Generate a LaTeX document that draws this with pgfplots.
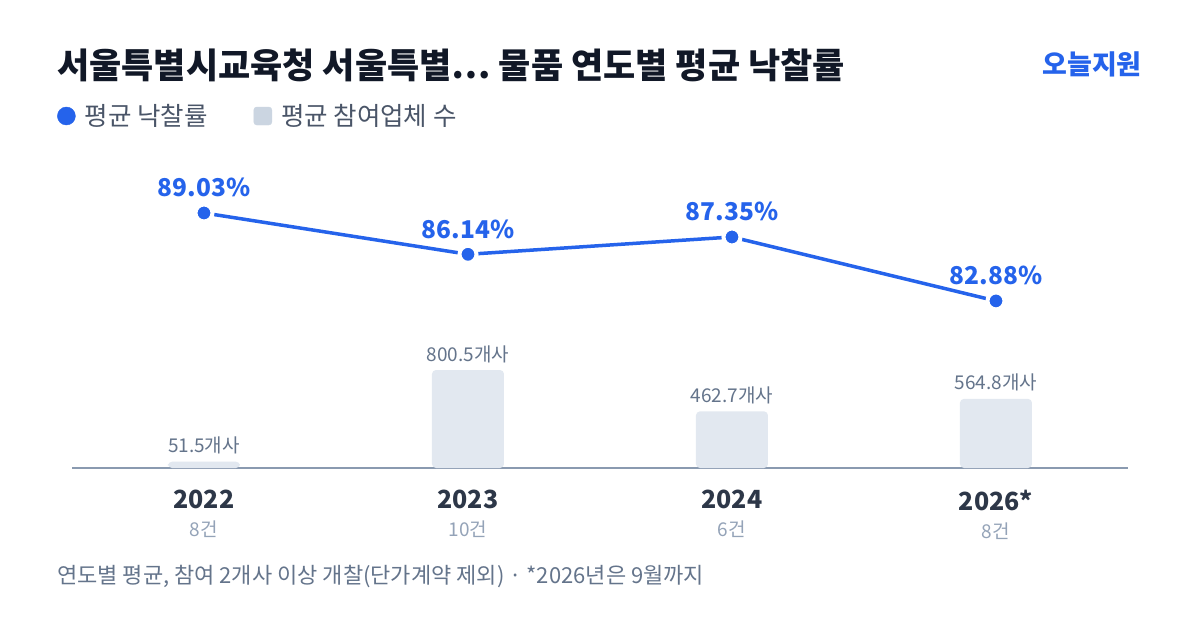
\documentclass[border=0pt]{standalone}
\usepackage{fontspec}
\setmainfont{Noto Sans CJK KR}
\usepackage{pgfplots}
\pgfplotsset{compat=1.18}

\definecolor{mainblue}{HTML}{2563EB}
\definecolor{titlec}{HTML}{111827}
\definecolor{legc}{HTML}{4A5568}
\definecolor{barc}{HTML}{E2E8F0}
\definecolor{legbar}{HTML}{CBD5E1}
\definecolor{basec}{HTML}{8A9AB0}
\definecolor{yearc}{HTML}{2D3748}
\definecolor{subc}{HTML}{94A3B8}
\definecolor{notec}{HTML}{64748B}
\newcommand\fs[1]{\fontsize{#1pt}{#1pt}\selectfont}
\newcommand\yl[2]{{\fs{25}\bfseries\color{yearc}#1}\\[11pt]{\fs{19}\color{subc}#2}}

\begin{document}
\begin{tikzpicture}[x=1pt,y=1pt]
\fill[white] (0,0) rectangle (1200,630);
\node[anchor=west, text=titlec, font=\fs{35}\bfseries, inner sep=0pt] at (57,565) {서울특별시교육청 서울특별… 물품 연도별 평균 낙찰률};
\node[anchor=east, text=mainblue, font=\fs{27}\bfseries, inner sep=0pt] at (1142,566) {오늘지원};
\node[anchor=west, text=notec, font=\fs{22}, inner sep=0pt] at (57,53) {연도별 평균, 참여 2개사 이상 개찰(단가계약 제외) · *2026년은 9월까지};

% participants per year (bars)
\begin{axis}[
  at={(72pt,162pt)}, anchor=south west,
  scale only axis, width=1056pt, height=122.4pt,
  xmin=-0.5, xmax=3.5, ymin=0, ymax=1000,
  axis x line=bottom, axis y line=none,
  axis line style={basec, line width=1.5pt, -},
  xtick={0,1,2,3}, major tick length=0pt,
  xticklabels={{\yl{2022}{8건}},{\yl{2023}{10건}},{\yl{2024}{6건}},{\yl{2026*}{8건}}},
  xticklabel style={anchor=north, inner sep=0pt, yshift=-22pt, align=center},
  ybar, bar width=72pt, clip=false,
  /pgf/number format/assume math mode=true,
  nodes near coords={\pgfmathprintnumber[fixed,precision=1]{\pgfplotspointmeta}개사},
  every node near coord/.append style={anchor=base, inner sep=0pt, yshift=9pt, font=\fs{19}, text=notec},
]
\addplot[fill=barc, draw=none, rounded corners=4pt] coordinates {(0,51.5) (1,800.5) (2,462.7) (3,564.8)};
\end{axis}

% average winning rate (line)
\begin{axis}[
  at={(72pt,287.9pt)}, anchor=south west,
  scale only axis, width=1056pt, height=143pt,
  xmin=-0.5, xmax=3.5, ymin=80, ymax=90,
  hide axis, clip=false,
  /pgf/number format/assume math mode=true,
  legend style={at={(axis description cs:-0.0142,1.581)}, anchor=west, draw=none, fill=none,
    font=\fs{25.5}, text=legc, legend columns=2, inner sep=0pt,
    /tikz/every odd column/.append style={column sep=7pt},
    /tikz/every even column/.append style={column sep=44pt}},
  legend cell align=left,
]
\addlegendimage{legend image code/.code={\fill[mainblue] (9pt,0) circle (9pt);}}
\addlegendentry{평균 낙찰률}
\addlegendimage{legend image code/.code={\fill[legbar, rounded corners=3pt] (0,-9pt) rectangle (18pt,9pt);}}
\addlegendentry{평균 참여업체 수}
\addplot[mainblue, line width=3.5pt, mark=*, mark size=8.5pt,
  mark options={fill=mainblue, draw=white, line width=4pt}, forget plot,
  nodes near coords={\pgfmathprintnumber[fixed,fixed zerofill,precision=2]{\pgfplotspointmeta}\%},
  every node near coord/.append style={anchor=base, inner sep=0pt, yshift=16pt, font=\fs{24.5}\bfseries, text=mainblue}]
  coordinates {(0,89.03) (1,86.14) (2,87.35) (3,82.88)};
\end{axis}
\end{tikzpicture}
\end{document}
